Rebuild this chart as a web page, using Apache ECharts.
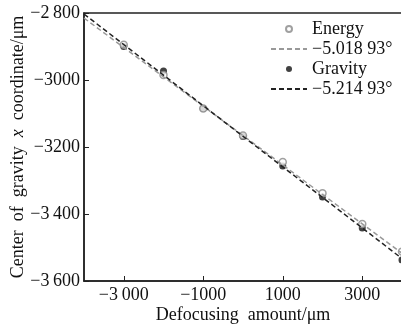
<!DOCTYPE html>
<html>
<head>
<meta charset="utf-8">
<script src="https://cdn.jsdelivr.net/npm/echarts@6/dist/echarts.min.js"></script>
<style>
  html, body { margin: 0; padding: 0; background: #fff; }
  #chart { width: 401px; height: 327px; }
</style>
</head>
<body>
<div id="chart"></div>
<script>
// defocusing amount (µm) for the measured points
var xValues = [-3000, -2000, -1000, 0, 1000, 2000, 3000, 4000];
// centre of gravity x coordinate (µm)
var energyValues = [-2895, -2985, -3085, -3166, -3245, -3338, -3430, -3512];
var gravityValues = [-2900, -2973, -3085, -3169, -3257, -3349, -3442, -3537];
// fitted lines, end points
var energyFit = [[-4000, -2815], [4000, -3517]];
var gravityFit = [[-4000, -2803], [4000, -3533]];

var legendNames = ['Energy', '\u22125.018 93\u00b0', 'Gravity', '\u22125.214 93\u00b0'];
var xTickValues = [-3000, -1000, 1000, 3000];
var xTickLabels = ['\u22123\u2009000', '\u22121000', '1000', '3000'];
var yTickValues = [-2800, -3000, -3200, -3400, -3600];
var yTickLabels = ['\u22122\u2009800', '\u22123000', '\u22123200', '\u22123\u2009400', '\u22123\u2009600'];

(function () {
    var chart = echarts.init(document.getElementById('chart'));
    var font = 'Liberation Serif';

    function pairs(xs, ys) {
        var out = [];
        for (var i = 0; i < xs.length; i++) out.push([xs[i], ys[i]]);
        return out;
    }

    var noSymbol = { color: 'rgba(0,0,0,0)', borderWidth: 0 };

    var option = {
        animation: false,
        textStyle: { fontFamily: font, color: '#111' },
        grid: {
            left: 84, right: -1, top: 13, bottom: 46,
            outerBoundsMode: 'none',
            show: true, borderColor: '#222', borderWidth: 1.5
        },
        legend: {
            orient: 'vertical',
            left: 265, top: 15,
            itemWidth: 36, itemHeight: 6, itemGap: 2,
            textStyle: { fontFamily: font, fontSize: 18, lineHeight: 18, color: '#111' },
            data: [
                { name: legendNames[0], icon: 'circle' },
                { name: legendNames[1], itemStyle: noSymbol },
                { name: legendNames[2], icon: 'circle' },
                { name: legendNames[3], itemStyle: noSymbol }
            ]
        },
        xAxis: {
            type: 'value',
            min: -4000, max: 4000,
            name: 'Defocusing  amount/\u03bcm',
            nameLocation: 'middle', nameGap: 25,
            nameMoveOverlap: false,
            nameTextStyle: { fontFamily: font, fontSize: 18, color: '#111' },
            axisLine: { onZero: false, lineStyle: { color: '#222', width: 1.5 } },
            axisTick: { inside: true, length: 5, customValues: xTickValues, lineStyle: { color: '#222' } },
            axisLabel: {
                customValues: xTickValues, margin: 5,
                fontFamily: font, fontSize: 18, color: '#111',
                formatter: function (v) { return xTickLabels[xTickValues.indexOf(v)]; }
            },
            splitLine: { show: false }
        },
        yAxis: {
            type: 'value',
            min: -3600, max: -2800, interval: 200,
            name: '{a|Center  of  gravity  }{i|x}{a|  coordinate/\u03bcm}',
            nameLocation: 'middle', nameGap: 57,
            nameMoveOverlap: false,
            nameTextStyle: {
                fontFamily: font, fontSize: 18, color: '#111',
                rich: {
                    a: { fontFamily: font, fontSize: 18, color: '#111' },
                    i: { fontFamily: font, fontSize: 18, color: '#111', fontStyle: 'italic' }
                }
            },
            axisLine: { show: true, onZero: false, lineStyle: { color: '#222', width: 1.5 } },
            axisTick: { show: true, inside: true, length: 5, lineStyle: { color: '#222' } },
            axisLabel: {
                margin: 4, fontFamily: font, fontSize: 18, color: '#111',
                formatter: function (v) { return yTickLabels[yTickValues.indexOf(v)]; }
            },
            splitLine: { show: false }
        },
        series: [
            {
                name: legendNames[2], type: 'scatter',
                data: pairs(xValues, gravityValues),
                symbolSize: 7,
                itemStyle: { color: '#111' }
            },
            {
                name: legendNames[0], type: 'scatter',
                data: pairs(xValues, energyValues),
                symbolSize: 7,
                itemStyle: { color: '#fff', borderColor: '#888', borderWidth: 1.5 }
            },
            {
                name: legendNames[1], type: 'line',
                data: energyFit, symbol: 'none',
                lineStyle: { color: '#999', width: 1.5, type: [5, 3] },
                itemStyle: { color: '#999' }
            },
            {
                name: legendNames[3], type: 'line',
                data: gravityFit, symbol: 'none',
                lineStyle: { color: '#222', width: 1.5, type: [5, 3] },
                itemStyle: { color: '#222' }
            }
        ]
    };
    chart.setOption(option);
})();
</script>
</body>
</html>
